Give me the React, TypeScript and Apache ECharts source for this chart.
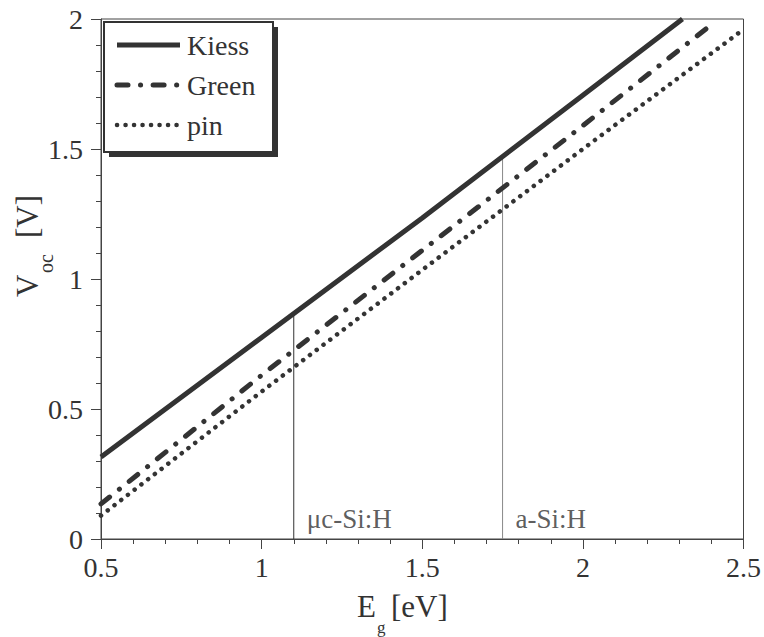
import { useEffect, useRef } from 'react';
import * as echarts from 'echarts';

// Band gap E_g [eV] and open-circuit voltage V_oc [V] for each limit
const kiessEg = [0.5, 1.0, 1.5, 2.0, 2.31];
const kiessVoc = [0.315, 0.775, 1.235, 1.707, 2.0];
const greenEg = [0.5, 1.0, 1.5, 2.0, 2.407];
const greenVoc = [0.135, 0.63, 1.11, 1.59, 1.985];
const pinEg = [0.5, 1.0, 1.5, 2.0, 2.5];
const pinVoc = [0.09, 0.567, 1.035, 1.5, 1.96];

const seriesNames = ['Kiess', 'Green', 'pin'];

// Materials marked with vertical lines
const materialNames = ['μc-Si:H', 'a-Si:H'];
const materialGap = [1.1, 1.75];
const materialTop = [0.862, 1.47];

const FONT = "'Liberation Serif', 'Times New Roman', Times, serif";
const INK = '#333';

const KIESS_STYLE = { width: 5, dash: null as any, cap: 'butt' };
const GREEN_STYLE = { width: 5, dash: [11, 12.5, 0.1, 12.5], cap: 'round' };
const PIN_STYLE = { width: 4.5, dash: [0.1, 8.4], cap: 'round' };

export default function App() {
  const ref = useRef<HTMLDivElement>(null);

  useEffect(() => {
    if (!ref.current) return;
    const chart = echarts.init(ref.current, undefined, { renderer: 'svg' });

    const pair = (xs: number[], ys: number[]) => xs.map((x, i) => [x, ys[i]]);

    const materialLineColors = ['#333', '#888'];
    const materialSeries = materialNames.map((name, i) => ({
      name: 'line-' + name,
      type: 'line',
      data: [
        [materialGap[i], 0],
        [materialGap[i], materialTop[i]],
      ],
      symbol: 'none',
      lineStyle: { width: 1, color: materialLineColors[i] },
      z: 1,
      silent: true,
    }));

    const txt = (size: number) => ({ fontFamily: FONT, fontSize: size, fill: INK });

    const styles = [KIESS_STYLE, GREEN_STYLE, PIN_STYLE];
    const legendY = [45, 85, 125];
    const legendGraphics: any[] = [
      { type: 'rect', shape: { x: 109, y: 27, width: 169, height: 130 }, style: { fill: INK }, z: 100 },
      { type: 'rect', shape: { x: 104, y: 22, width: 169, height: 130 }, style: { fill: '#fff', stroke: INK, lineWidth: 2 }, z: 101 },
    ];
    seriesNames.forEach((name, i) => {
      const s = styles[i];
      legendGraphics.push({
        type: 'line',
        shape: { x1: 117, y1: legendY[i], x2: 180, y2: legendY[i] },
        style: { stroke: INK, lineWidth: s.width, lineDash: s.dash, lineCap: s.cap },
        z: 102,
      });
      legendGraphics.push({
        type: 'text',
        x: 187,
        y: legendY[i],
        style: { text: name, ...txt(28), textAlign: 'left', textVerticalAlign: 'middle' },
        z: 102,
      });
    });

    const option: any = {
      animation: false,
      backgroundColor: '#fff',
      textStyle: { fontFamily: FONT },
      grid: {
        left: 101,
        right: 19,
        top: 19,
        bottom: 98,
        show: true,
        borderColor: '#444',
        borderWidth: 1,
        backgroundColor: 'transparent',
      },
      xAxis: {
        type: 'value',
        min: 0.5,
        max: 2.5,
        interval: 0.5,
        axisLine: { show: true, onZero: false, lineStyle: { color: '#444', width: 1 } },
        axisTick: { show: true, length: 10, lineStyle: { color: '#444' } },
        minorTick: { show: true, splitNumber: 5, length: 5, lineStyle: { color: '#444' } },
        splitLine: { show: false },
        axisLabel: { fontFamily: FONT, fontSize: 28, color: INK, margin: 14 },
      },
      yAxis: {
        type: 'value',
        min: 0,
        max: 2,
        interval: 0.5,
        axisLine: { show: true, onZero: false, lineStyle: { color: '#444', width: 1 } },
        axisTick: { show: true, length: 10, lineStyle: { color: '#444' } },
        minorTick: { show: true, splitNumber: 5, length: 5, lineStyle: { color: '#444' } },
        splitLine: { show: false },
        axisLabel: { fontFamily: FONT, fontSize: 28, color: INK, margin: 18 },
      },
      series: [
        ...materialSeries,
        {
          name: 'material-labels',
          type: 'scatter',
          symbolSize: 0,
          data: materialGap.map((g) => [g, 0]),
          silent: true,
          label: {
            show: true,
            position: 'right',
            offset: [8, -20],
            fontFamily: FONT,
            fontSize: 27,
            color: INK,
            formatter: (p: any) => materialNames[p.dataIndex],
          },
        },
        {
          name: seriesNames[0],
          type: 'line',
          data: pair(kiessEg, kiessVoc),
          symbol: 'none',
          lineStyle: { width: KIESS_STYLE.width, color: INK, type: 'solid' },
          z: 3,
        },
        {
          name: seriesNames[1],
          type: 'line',
          data: pair(greenEg, greenVoc),
          symbol: 'none',
          lineStyle: { width: GREEN_STYLE.width, color: INK, type: GREEN_STYLE.dash, cap: 'round' },
          z: 3,
        },
        {
          name: seriesNames[2],
          type: 'line',
          data: pair(pinEg, pinVoc),
          symbol: 'none',
          lineStyle: { width: PIN_STYLE.width, color: INK, type: PIN_STYLE.dash, cap: 'round' },
          z: 3,
        },
      ],
      graphic: [
        ...legendGraphics,
        // x-axis title: E_g [eV]
        { type: 'text', x: 357, y: 606, style: { text: 'E', ...txt(31), textAlign: 'left', textVerticalAlign: 'middle' } },
        { type: 'text', x: 377, y: 627, style: { text: 'g', ...txt(17), textAlign: 'left', textVerticalAlign: 'middle' } },
        { type: 'text', x: 391, y: 606, style: { text: '[eV]', ...txt(31), textAlign: 'left', textVerticalAlign: 'middle' } },
        // y-axis title: V_oc [V]
        { type: 'text', x: 27, y: 297, rotation: Math.PI / 2, style: { text: 'V', ...txt(31), textAlign: 'left', textVerticalAlign: 'middle' } },
        { type: 'text', x: 46, y: 273, rotation: Math.PI / 2, style: { text: 'oc', ...txt(20), textAlign: 'left', textVerticalAlign: 'middle' } },
        { type: 'text', x: 27, y: 238, rotation: Math.PI / 2, style: { text: '[V]', ...txt(31), textAlign: 'left', textVerticalAlign: 'middle' } },
      ],
    };

    chart.setOption(option);
    return () => chart.dispose();
  }, []);

  return <div ref={ref} style={{ width: 764, height: 637, position: 'absolute', left: 0, top: 0 }} />;
}
